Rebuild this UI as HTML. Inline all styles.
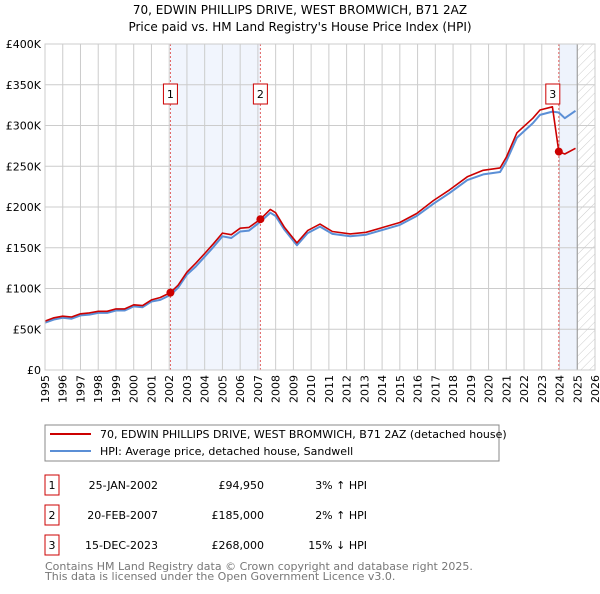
<!DOCTYPE html>
<html><head><meta charset="utf-8"><style>
body{margin:0;background:#fff;font-family:"DejaVu Sans","Liberation Sans",sans-serif;}
svg text{font-family:"DejaVu Sans","Liberation Sans",sans-serif;}
</style></head><body>
<svg id="c" width="600" height="590" xmlns="http://www.w3.org/2000/svg">
<defs><pattern id="hatch" width="6" height="6" patternUnits="userSpaceOnUse" patternTransform="rotate(45)"><line x1="0" y1="0" x2="0" y2="6" stroke="#ccc" stroke-width="1"/></pattern></defs>
<text x="300" y="14" text-anchor="middle" font-size="12">70, EDWIN PHILLIPS DRIVE, WEST BROMWICH, B71 2AZ</text>
<text x="300" y="31" text-anchor="middle" font-size="12">Price paid vs. HM Land Registry's House Price Index (HPI)</text>
<g id="plot"></g>
<g>
<rect x="45" y="425" width="454" height="36" fill="#fff" stroke="#888"/>
<line x1="50" y1="434" x2="91" y2="434" stroke="#cc0000" stroke-width="2"/>
<text x="100" y="438" font-size="11">70, EDWIN PHILLIPS DRIVE, WEST BROMWICH, B71 2AZ (detached house)</text>
<line x1="50" y1="451" x2="91" y2="451" stroke="#5b8fd6" stroke-width="2"/>
<text x="100" y="455" font-size="11">HPI: Average price, detached house, Sandwell</text>
</g>
<g font-size="11">
<rect x="45" y="475" width="14" height="20" fill="#fff" stroke="#cc0000"/><text x="52" y="489" text-anchor="middle">1</text>
<text x="158" y="489" text-anchor="end">25-JAN-2002</text>
<text x="264" y="489" text-anchor="end">£94,950</text>
<text x="367" y="489" text-anchor="end">3% ↑ HPI</text>
<rect x="45" y="505" width="14" height="20" fill="#fff" stroke="#cc0000"/><text x="52" y="519" text-anchor="middle">2</text>
<text x="158" y="519" text-anchor="end">20-FEB-2007</text>
<text x="264" y="519" text-anchor="end">£185,000</text>
<text x="367" y="519" text-anchor="end">2% ↑ HPI</text>
<rect x="45" y="535" width="14" height="20" fill="#fff" stroke="#cc0000"/><text x="52" y="549" text-anchor="middle">3</text>
<text x="158" y="549" text-anchor="end">15-DEC-2023</text>
<text x="264" y="549" text-anchor="end">£268,000</text>
<text x="367" y="549" text-anchor="end">15% ↓ HPI</text>
</g>
<text x="45" y="570" font-size="11" fill="#777">Contains HM Land Registry data © Crown copyright and database right 2025.</text>
<text x="45" y="580" font-size="11" fill="#777">This data is licensed under the Open Government Licence v3.0.</text>
</svg>
<script>
const years = [1995,1995.5,1996,1996.5,1997,1997.5,1998,1998.5,1999,1999.5,2000,2000.5,2001,2001.5,2002.07,2002.5,2003,2003.5,2004,2004.5,2005,2005.5,2006,2006.5,2007.14,2007.7,2008,2008.5,2009.2,2009.8,2010.5,2011.2,2012.2,2013.1,2014.05,2015,2015.95,2016.9,2017.8,2018.8,2019.7,2020.65,2021,2021.6,2022.5,2022.9,2023.6,2023.96,2024.3,2024.9];
const hpiValues = [58,62,64,63,67,68,70,70,73,73,78,77,84,86,92,101,117,127,139,151,164,162,170,171,182,193,189,172,153,168,176,167,164,166,172,178,189,204,217,233,240,243,256,285,303,313,317,316,309,318];
const propValues = [60,64,66,65,69,70,72,72,75,75,80,79,86,89,95,104,120,131,143,155,168,166,174,175,185,197,193,175,156,171,179,170,167,169,175,181,192,208,221,237,245,248,261,291,309,319,323,268,265,272];
const yTicks = [0,50,100,150,200,250,300,350,400];
const xTickYears = [1995,1996,1997,1998,1999,2000,2001,2002,2003,2004,2005,2006,2007,2008,2009,2010,2011,2012,2013,2014,2015,2016,2017,2018,2019,2020,2021,2022,2023,2024,2025,2026];
const saleYears = [2002.07,2007.14,2023.96];
const saleValues = [94.95,185,268];
const saleLabels = ["1","2","3"];

const X0=45,X1=595,Y0=370,Y1=44;
const xs=y=>X0+(y-1995)/(2026-1995)*(X1-X0);
const ys=v=>Y0-v/400*(Y0-Y1);
const NS="http://www.w3.org/2000/svg";
const g=document.getElementById('plot');
function mk(t,a,p){const e=document.createElementNS(NS,t);for(const k in a)e.setAttribute(k,a[k]);(p||g).appendChild(e);return e;}

let e;
e=mk('rect',{x:xs(saleYears[0]),y:Y1,width:xs(saleYears[1])-xs(saleYears[0]),height:Y0-Y1,fill:'#eef3fc',opacity:0.8});


e=mk('rect',{x:xs(saleYears[2]),y:Y1,width:xs(2025)-xs(saleYears[2]),height:Y0-Y1,fill:'#eef3fc'});


e=mk('rect',{x:xs(2025),y:Y1,width:X1-xs(2025),height:Y0-Y1,fill:'url(#hatch)'});



yTicks.forEach(v=>{
  e=mk('line',{x1:X0,x2:X1,y1:ys(v),y2:ys(v),stroke:'#ccc','stroke-width':1});
  
  
  e=mk('text',{x:X0-4,y:ys(v)+4,'text-anchor':'end','font-size':11});
  e.textContent=v===0?'£0':'£'+v+'K';
  
  
});
xTickYears.forEach(yr=>{
  e=mk('line',{x1:xs(yr),x2:xs(yr),y1:Y1,y2:Y0,stroke:'#ccc','stroke-width':1});
  
  
  const tx=xs(yr)+4, ty=Y0+5;
  e=mk('text',{x:tx,y:ty,'text-anchor':'end','font-size':11,transform:'rotate(-90 '+tx+' '+ty+')'});
  e.textContent=yr;
  
  
});
e=mk('line',{x1:xs(2025),x2:xs(2025),y1:Y1,y2:Y0,stroke:'#999','stroke-width':1});



saleYears.forEach((yr,i)=>{
  e=mk('line',{x1:xs(yr),x2:xs(yr),y1:Y1,y2:Y0,stroke:'#e06060','stroke-width':1,'stroke-dasharray':'2,2'});
  
  
});

function pts(vals){return years.map((y,i)=>xs(y).toFixed(1)+','+ys(vals[i]).toFixed(1)).join(' ');}
e=mk('polyline',{points:pts(hpiValues),fill:'none',stroke:'#5b8fd6','stroke-width':2,'stroke-linejoin':'round'});


e=mk('polyline',{points:pts(propValues),fill:'none',stroke:'#cc0000','stroke-width':1.6,'stroke-linejoin':'round'});



saleYears.forEach((yr,i)=>{
  e=mk('circle',{cx:xs(yr),cy:ys(saleValues[i]),r:4,fill:'#cc0000'});
  
  
  const bx=xs(yr)-7-(i===2?6:0);
  e=mk('rect',{x:bx,y:84,width:14,height:20,fill:'#fff',stroke:'#cc0000'});
  
  
  e=mk('text',{x:bx+7,y:98,'text-anchor':'middle','font-size':11});
  e.textContent=saleLabels[i];
  
  
});
e=mk('rect',{x:X0,y:Y1,width:X1-X0,height:Y0-Y1,fill:'none',stroke:'#ccc'});


</script>
</body></html>
